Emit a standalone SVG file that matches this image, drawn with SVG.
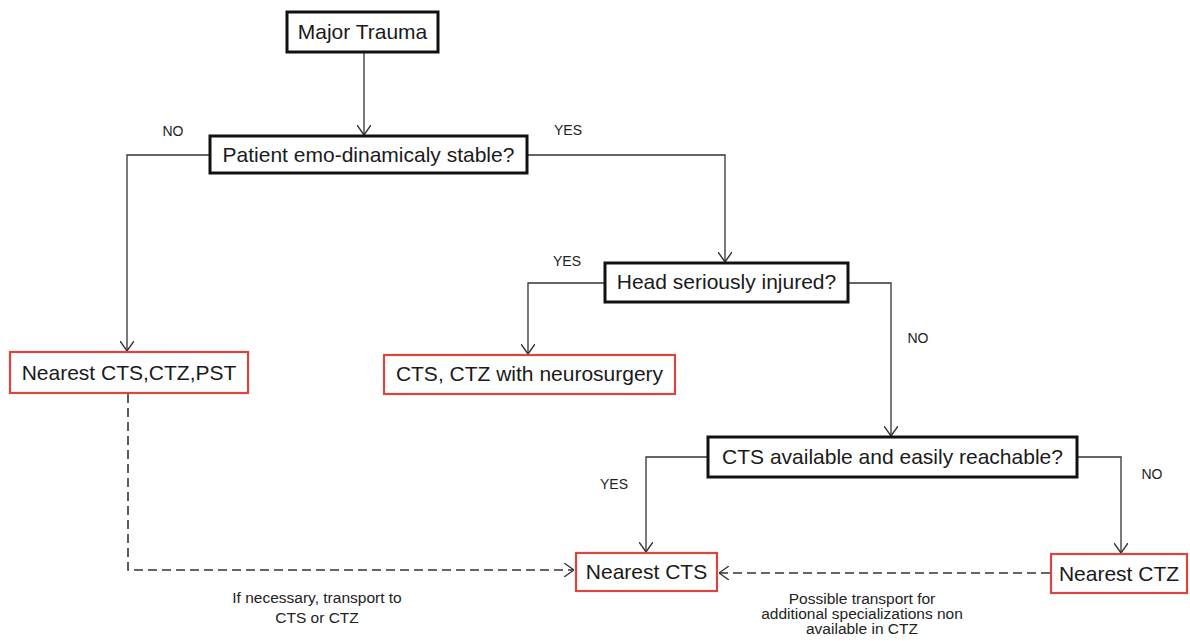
<svg xmlns="http://www.w3.org/2000/svg" width="1190" height="641" viewBox="0 0 1190 641">
  <style>
    .box { fill: #ffffff; stroke: #111111; stroke-width: 3; }
    .end { fill: #ffffff; stroke: #d9463f; stroke-width: 2.2; }
    .t { font-family: "Liberation Sans", Arial, sans-serif; font-size: 21px; fill: #1a1a1a; text-anchor: middle; }
    .lbl { font-family: "Liberation Sans", Arial, sans-serif; font-size: 14px; fill: #222222; text-anchor: middle; }
    .note { font-family: "Liberation Sans", Arial, sans-serif; font-size: 15.5px; fill: #222222; text-anchor: middle; }
    .link { fill: none; stroke: #333333; stroke-width: 1.3; }
    .dash { fill: none; stroke: #333333; stroke-width: 1.6; stroke-dasharray: 9 5; }
  </style>
  <defs>
    <marker id="arrow" viewBox="0 0 10 14" refX="10" refY="7" markerWidth="10" markerHeight="14" markerUnits="userSpaceOnUse" orient="auto">
      <path d="M0,0 L10,7 L0,14" fill="none" stroke="#333333" stroke-width="1.4"/>
    </marker>
  </defs>

  <rect width="1190" height="641" fill="#ffffff"/>

  <!-- connectors -->
  <g id="connectors">
    <path class="link" d="M364,52 V135" marker-end="url(#arrow)"/>
    <path class="link" d="M210,155 H127 V351" marker-end="url(#arrow)"/>
    <path class="link" d="M527,155 H725 V262" marker-end="url(#arrow)"/>
    <path class="link" d="M605,283 H528 V354" marker-end="url(#arrow)"/>
    <path class="link" d="M848,283 H891 V436" marker-end="url(#arrow)"/>
    <path class="link" d="M708,457 H646 V552" marker-end="url(#arrow)"/>
    <path class="link" d="M1077,457 H1121 V553" marker-end="url(#arrow)"/>
    <path class="dash" d="M128,394 V570 H574" marker-end="url(#arrow)"/>
    <path class="dash" d="M1050,573 H719" marker-end="url(#arrow)"/>

    <text class="lbl" x="173" y="136">NO</text>
    <text class="lbl" x="568" y="135">YES</text>
    <text class="lbl" x="567" y="266">YES</text>
    <text class="lbl" x="918" y="343">NO</text>
    <text class="lbl" x="614" y="489">YES</text>
    <text class="lbl" x="1152" y="479">NO</text>

    <text class="note" x="317" y="603">If necessary, transport to</text>
    <text class="note" x="317" y="623">CTS or CTZ</text>
    <text class="note" x="862" y="604">Possible transport for</text>
    <text class="note" x="862" y="619">additional specializations non</text>
    <text class="note" x="862" y="634">available in CTZ</text>
  </g>

  <!-- nodes -->
  <g id="major-trauma">
    <rect class="box" x="287" y="12" width="151" height="40"/>
    <text class="t" x="362.5" y="39">Major Trauma</text>
  </g>
  <g id="stable">
    <rect class="box" x="210" y="136" width="317" height="37"/>
    <text class="t" x="368.5" y="162">Patient emo-dinamicaly stable?</text>
  </g>
  <g id="nearest-any">
    <rect class="end" x="10" y="352" width="238" height="41"/>
    <text class="t" x="129" y="380">Nearest CTS,CTZ,PST</text>
  </g>
  <g id="head">
    <rect class="box" x="605" y="263" width="243" height="39"/>
    <text class="t" x="726.5" y="289">Head seriously injured?</text>
  </g>
  <g id="neurosurgery">
    <rect class="end" x="384" y="355" width="291" height="39"/>
    <text class="t" x="529.5" y="381">CTS, CTZ with neurosurgery</text>
  </g>
  <g id="cts-available">
    <rect class="box" x="708" y="437" width="369" height="40"/>
    <text class="t" x="892.5" y="464">CTS available and easily reachable?</text>
  </g>
  <g id="nearest-cts">
    <rect class="end" x="576" y="553" width="141" height="38"/>
    <text class="t" x="646.5" y="579">Nearest CTS</text>
  </g>
  <g id="nearest-ctz">
    <rect class="end" x="1051" y="554" width="136" height="39"/>
    <text class="t" x="1119" y="581">Nearest CTZ</text>
  </g>
</svg>
